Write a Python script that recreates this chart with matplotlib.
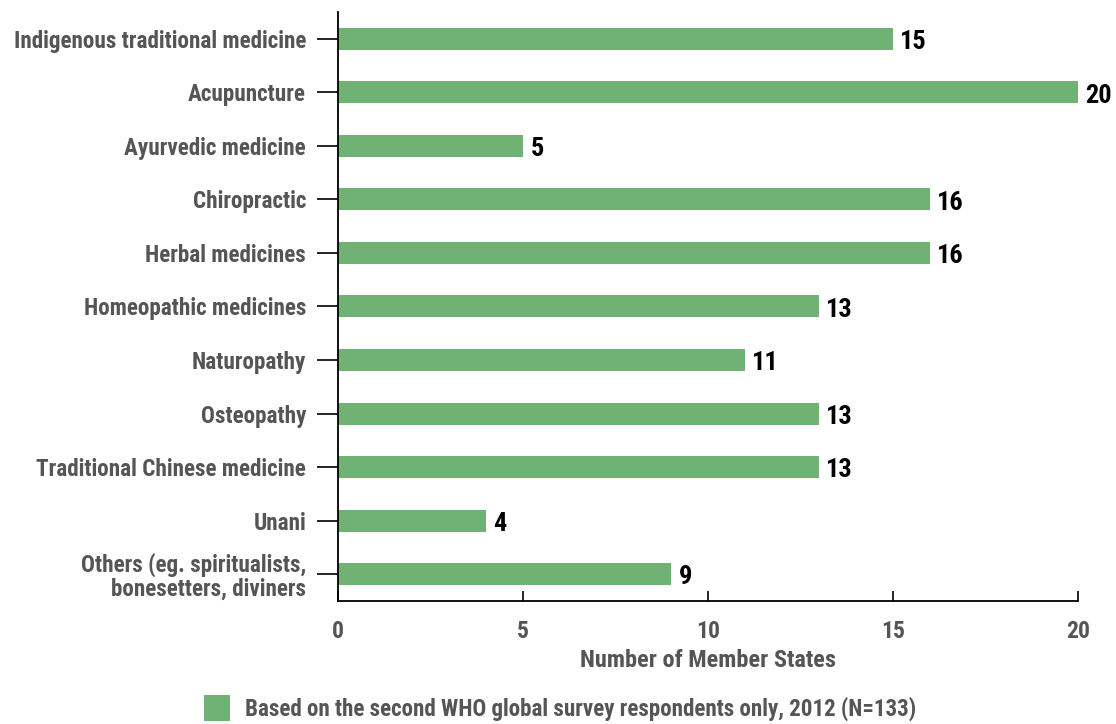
import matplotlib
matplotlib.use("Agg")
import matplotlib.pyplot as plt
from matplotlib.patches import Rectangle
from matplotlib import font_manager

categories = [
    "Indigenous traditional medicine",
    "Acupuncture",
    "Ayurvedic medicine",
    "Chiropractic",
    "Herbal medicines",
    "Homeopathic medicines",
    "Naturopathy",
    "Osteopathy",
    "Traditional Chinese medicine",
    "Unani",
    "Others (eg. spiritualists,\nbonesetters, diviners",
]
member_states = [15, 20, 5, 16, 16, 13, 11, 13, 13, 4, 9]
xticks = [0, 5, 10, 15, 20]
legend_label = "Based on the second WHO global survey respondents only, 2012 (N=133)"

GREEN = "#70b273"
GREY = "#555555"

# prefer a narrow face if one is available
names = {f.name for f in font_manager.fontManager.ttflist}
FONT = next((n for n in ("Roboto Condensed", "Liberation Sans Narrow",
                         "Open Sans Condensed", "Roboto") if n in names),
            "DejaVu Sans")
plt.rcParams["font.family"] = [FONT, "DejaVu Sans"]
plt.rcParams["font.weight"] = "bold"
k = 1.0 if FONT != "Roboto" else 0.84   # scale sizes down for a wide face

fig = plt.figure(figsize=(11.16, 7.24), dpi=100)
ax = fig.add_axes([0.3029, 0.170, 0.6630, 0.8134])

ys = list(range(len(categories)))
ax.barh(ys, member_states, height=0.41, color=GREEN, zorder=2)
for y, v in zip(ys, member_states):
    ax.text(v + 0.2, y + 0.06, str(v), va="center", ha="left",
            fontsize=19 * k, fontweight="bold", color="black", clip_on=False)

ax.set_ylim(len(categories) - 0.5, -0.5)
ax.set_xlim(0, 20)
ax.set_yticks(ys)
ax.set_yticklabels(categories, fontsize=16.7 * k, color=GREY,
                   fontweight="bold", linespacing=1.0)
ax.set_xticks(xticks)
ax.set_xticklabels([str(t) for t in xticks], fontsize=17 * k, color=GREY,
                   fontweight="bold")

ax.tick_params(axis="y", direction="out", length=15, width=1.2, pad=8,
               color="black")
ax.tick_params(axis="x", direction="in", length=7, width=1.2, pad=14,
               color="black")
for s in ("top", "right"):
    ax.spines[s].set_visible(False)
for s in ("left", "bottom"):
    ax.spines[s].set_linewidth(1.3)
    ax.spines[s].set_color("black")

ax.set_xlabel("Number of Member States", fontsize=17.6 * k, color=GREY,
              fontweight="bold", labelpad=4)

# legend drawn by hand beneath the axis
fig.patches.append(Rectangle((204 / 1116, 1 - 721 / 724), 26 / 1116, 26 / 724,
                             transform=fig.transFigure, facecolor=GREEN,
                             edgecolor="none"))
fig.text(245 / 1116, 1 - 709 / 724, legend_label, fontsize=16.6 * k,
         color=GREY, fontweight="bold", va="center", ha="left")

fig.savefig("out.png", dpi=100, facecolor="white")
